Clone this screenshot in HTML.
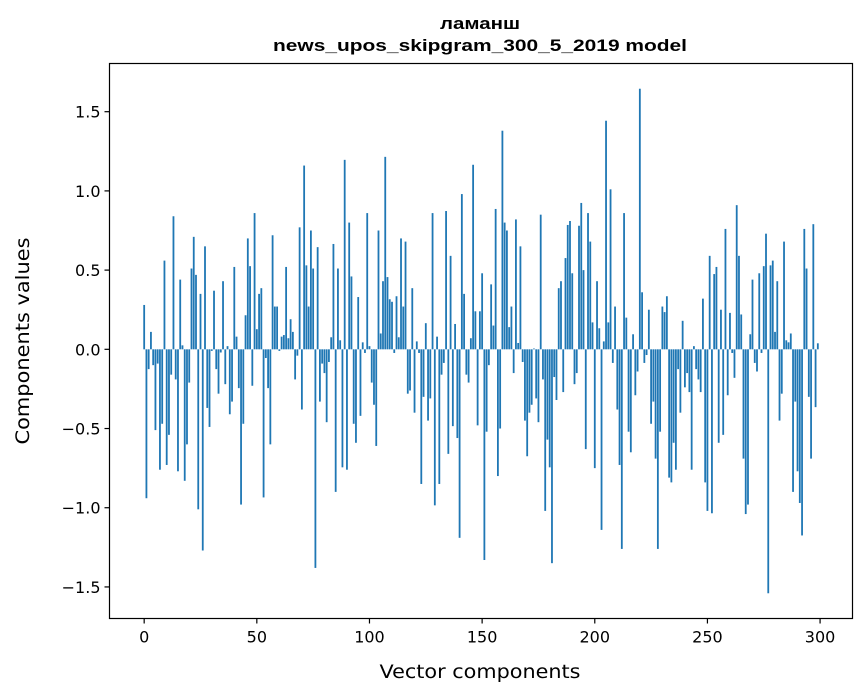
<!DOCTYPE html>
<html><head><meta charset="utf-8">
<style>
html,body{margin:0;padding:0;background:#fff;}
svg{display:block;}
text{font-family:"DejaVu Sans","Liberation Sans",sans-serif;fill:#000;}
</style></head>
<body>
<svg id="chart" width="867" height="696" viewBox="0 0 867 696" xmlns="http://www.w3.org/2000/svg">
<rect x="0" y="0" width="867" height="696" fill="#fff"/>
<text style="font-family:'Liberation Sans',Arial,sans-serif;font-weight:bold;font-size:17px" x="480" y="29" text-anchor="middle" textLength="80" lengthAdjust="spacingAndGlyphs">ламанш</text>
<text style="font-family:'Liberation Sans',Arial,sans-serif;font-weight:bold;font-size:17px" x="480" y="51" text-anchor="middle" textLength="414" lengthAdjust="spacingAndGlyphs">news_upos_skipgram_300_5_2019 model</text>
<g id="bars"></g>
<g id="xticks"></g>
<g id="yticks"></g>
<rect x="109.5" y="63.5" width="743" height="555" fill="none" stroke="#000" stroke-width="1.2"/>
<text x="480" y="678" text-anchor="middle" font-size="19" textLength="201" lengthAdjust="spacingAndGlyphs">Vector components</text>
<text x="0" y="0" text-anchor="middle" font-size="19" textLength="207" lengthAdjust="spacingAndGlyphs" transform="translate(29,341) rotate(-90)">Components values</text>
</svg>
<script>
const values = [
0.28,-0.94,-0.125,0.11,-0.1,-0.51,-0.09,-0.76,-0.47,0.56,
-0.73,-0.54,-0.16,0.84,-0.19,-0.77,0.44,0.025,-0.83,-0.6,
-0.21,0.51,0.71,0.47,-1.01,0.35,-1.27,0.65,-0.37,-0.49,
-0.01,0.37,-0.125,-0.28,-0.02,0.43,-0.22,0.02,-0.41,-0.33,
0.52,0.08,-0.245,-0.98,-0.47,0.215,0.70,0.525,-0.23,0.86,
0.127,0.35,0.386,-0.935,-0.055,-0.245,-0.6,0.72,0.27,0.27,
-0.01,0.08,0.09,0.52,0.07,0.19,0.11,-0.19,-0.04,0.77,
-0.38,1.16,0.53,0.27,0.75,0.51,-1.38,0.645,-0.33,-0.09,
-0.15,-0.46,-0.08,0.076,0.665,-0.9,0.51,0.057,-0.745,1.196,
-0.76,0.80,0.46,-0.47,-0.59,0.33,-0.42,0.044,-0.023,0.86,
0.02,-0.21,-0.35,-0.61,0.75,0.10,0.43,1.215,0.456,0.316,
0.30,-0.023,0.335,0.076,0.70,0.27,0.68,-0.28,-0.26,0.386,
-0.40,0.05,-0.023,-0.85,-0.3,0.165,-0.45,-0.31,0.86,-0.985,
0.08,-0.85,-0.16,-0.086,0.873,-0.66,0.59,-0.485,0.16,-0.56,
-1.19,0.98,0.35,-0.16,-0.21,0.07,1.165,0.24,-0.48,0.24,
0.48,-1.33,-0.52,-0.1,0.41,0.15,0.886,-0.80,-0.50,1.38,
0.80,0.75,0.14,0.27,-0.15,0.82,0.04,0.65,-0.08,-0.45,
-0.675,-0.40,-0.35,0.005,-0.31,-0.46,0.85,-0.19,-1.02,-0.57,
-0.745,-1.35,-0.175,-0.32,0.386,0.43,-0.27,0.576,0.785,0.81,
0.48,-0.22,-0.15,0.78,0.924,0.5,-0.63,0.86,0.68,0.17,
-0.75,0.43,0.133,-1.14,0.05,1.443,0.17,1.01,-0.086,0.27,
-0.38,-0.73,-1.26,0.86,0.20,-0.52,-0.65,0.095,-0.29,-0.14,
1.645,0.36,-0.086,-0.036,0.25,-0.47,-0.33,-0.69,-1.26,-0.52,
0.27,0.235,0.335,-0.81,-0.84,-0.59,-0.76,-0.125,-0.40,0.18,
-0.24,-0.15,-0.27,-0.76,0.02,-0.125,-0.19,-0.27,0.32,-0.84,
-1.02,0.59,-1.035,0.475,0.52,-0.59,0.25,-0.54,0.76,-0.29,
0.23,-0.023,-0.18,0.91,0.59,0.22,-0.69,-1.04,-0.98,0.095,
0.44,-0.086,-0.14,0.48,-0.023,0.525,0.73,-1.54,0.53,0.56,
0.11,0.43,-0.45,-0.28,0.68,0.057,0.044,0.10,-0.90,-0.33,
-0.77,-0.97,-1.175,0.76,0.51,-0.3,-0.69,0.79,-0.365,0.038
];
const xTickValues = [0,50,100,150,200,250,300];
const xTickLabels = ["0","50","100","150","200","250","300"];
const yTickValues = [-1.5,-1.0,-0.5,0.0,0.5,1.0,1.5];
const yTickLabels = ["\u22121.5","\u22121.0","\u22120.5","0.0","0.5","1.0","1.5"];

const NS = "http://www.w3.org/2000/svg";
const L = 109.5, R = 852.5, T = 63.5, B = 618.5;
const n = values.length;
const bw = 0.8;
const xmin0 = -bw/2, xmax0 = (n-1)+bw/2;
const xm = (xmax0-xmin0)*0.05;
const xmin = xmin0-xm, xmax = xmax0+xm;
let vmin = Math.min(0, ...values), vmax = Math.max(0, ...values);
const ym = (vmax-vmin)*0.05;
const ymin = vmin-ym, ymax = vmax+ym;
function xs(v){ return L + (v-xmin)/(xmax-xmin)*(R-L); }
function ys(v){ return B - (v-ymin)/(ymax-ymin)*(B-T); }

const gb = document.getElementById('bars');
values.forEach((v,i)=>{
  const r = document.createElementNS(NS,'rect');
  const x0 = xs(i-bw/2), x1 = xs(i+bw/2);
  const y0 = ys(Math.max(v,0)), y1 = ys(Math.min(v,0));
  r.setAttribute('x', x0);
  r.setAttribute('width', x1-x0);
  r.setAttribute('y', y0);
  r.setAttribute('height', Math.max(y1-y0, 0.01));
  r.setAttribute('fill', '#1f77b4');
  
  
  gb.appendChild(r);
});

const gx = document.getElementById('xticks');
xTickValues.forEach((v,i)=>{
  const x = xs(v);
  const ln = document.createElementNS(NS,'line');
  ln.setAttribute('x1', x); ln.setAttribute('x2', x);
  ln.setAttribute('y1', B); ln.setAttribute('y2', B+5);
  ln.setAttribute('stroke', '#000'); ln.setAttribute('stroke-width', '1.2');
  
  
  gx.appendChild(ln);
  const t = document.createElementNS(NS,'text');
  t.setAttribute('x', x); t.setAttribute('y', B+24);
  t.setAttribute('text-anchor', 'middle'); t.setAttribute('font-size', '16');
  t.textContent = xTickLabels[i];
  
  
  gx.appendChild(t);
});

const gy = document.getElementById('yticks');
yTickValues.forEach((v,i)=>{
  const y = ys(v);
  const ln = document.createElementNS(NS,'line');
  ln.setAttribute('x1', L-5); ln.setAttribute('x2', L);
  ln.setAttribute('y1', y); ln.setAttribute('y2', y);
  ln.setAttribute('stroke', '#000'); ln.setAttribute('stroke-width', '1.2');
  
  
  gy.appendChild(ln);
  const t = document.createElementNS(NS,'text');
  t.setAttribute('x', L-9); t.setAttribute('y', y+6);
  t.setAttribute('text-anchor', 'end'); t.setAttribute('font-size', '16');
  t.textContent = yTickLabels[i];
  
  
  gy.appendChild(t);
});
</script>
</body></html>
